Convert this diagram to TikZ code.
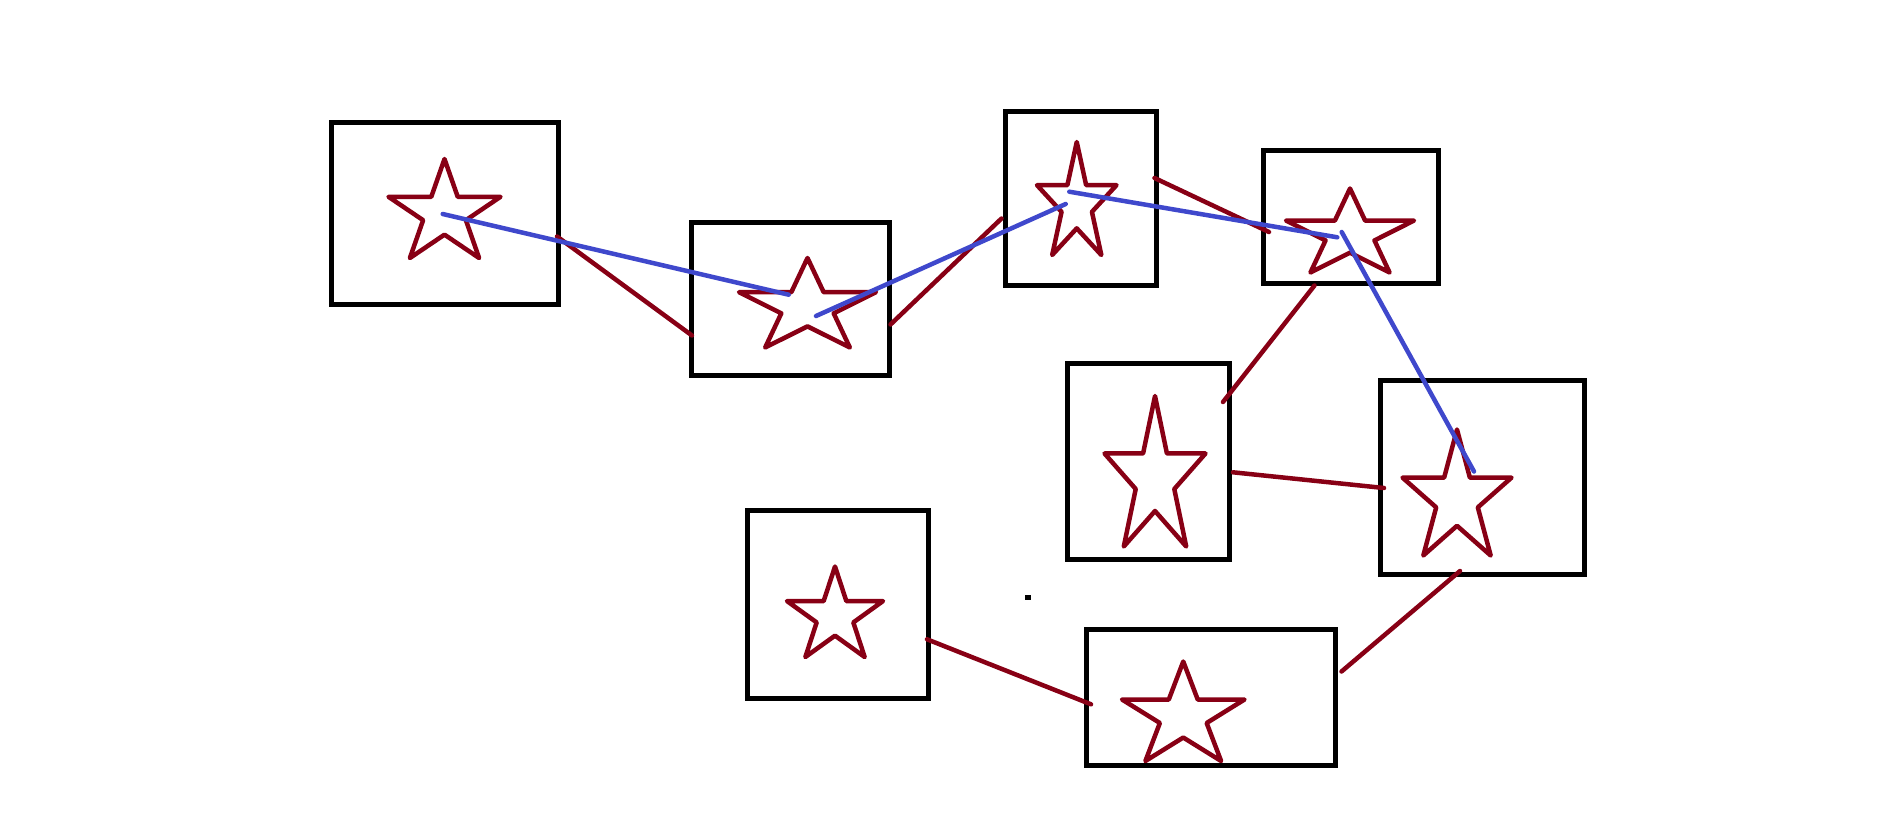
\documentclass[tikz,border=0pt]{standalone}
\usetikzlibrary{fit}
\definecolor{pred}{HTML}{880015}
\definecolor{pblue}{HTML}{3F48CC}
\tikzset{
  frame/.style={draw=black, line width=5pt, rectangle, inner sep=0pt, outer sep=0pt},
  starline/.style={draw=pred, line width=4.5pt, line join=round, line cap=round},
  redlink/.style={draw=pred, line width=4.5pt, line cap=round},
  bluelink/.style={draw=pblue, line width=4.5pt, line cap=round},
  dotmark/.style={fill=black, rectangle, inner sep=0pt, minimum size=5.5pt},
}
% star drawn inside its bounding box: left, top, right, bottom (pixels)
\newcommand\pstar[4]{%
  \pgfmathsetmacro\sw{#3-#1}\pgfmathsetmacro\sh{#4-#2}%
  \draw[starline, shift={(#1pt,-#2pt)}, x=\sw pt, y=-\sh pt]
    (0.5,0) -- (0.618,0.382) -- (1,0.382) -- (0.691,0.618) -- (0.809,1)
    -- (0.5,0.764) -- (0.191,1) -- (0.309,0.618) -- (0,0.382)
    -- (0.382,0.382) -- cycle;}
\begin{document}
\begin{tikzpicture}[x=1pt, y=-1pt]
\useasboundingbox (0,0) rectangle (1901,822);
\fill[white] (0,0) rectangle (1901,822);

% boxes
\node[frame, fit={(331.7,122.3) (558,304.3)}] (b1) {};
\node[frame, fit={(691.7,222.3) (889.5,375.8)}] (b2) {};
\node[frame, fit={(1005.7,111) (1156.2,285)}] (b3) {};
\node[frame, fit={(1263.8,150.8) (1438.3,283.7)}] (b4) {};
\node[frame, fit={(1067.5,363.5) (1229.2,559.8)}] (b5) {};
\node[frame, fit={(1380.8,380.8) (1584.2,574.8)}] (b6) {};
\node[frame, fit={(747.5,510.8) (928.2,698.2)}] (b7) {};
\node[frame, fit={(1086.5,629.2) (1335.5,765)}] (b8) {};

% stars
\pstar{388.5}{159}{500.5}{258}
\pstar{739}{258}{876}{347.5}
\pstar{1037}{142}{1116.5}{255}
\pstar{1286}{188.5}{1414}{272.5}
\pstar{1104.5}{396}{1205.5}{546.5}
\pstar{1402.5}{429.5}{1511.5}{555.5}
\pstar{787}{566.5}{883}{657}
\pstar{1122}{661.5}{1244.5}{761}

% dot
\node[dotmark] (dot) at (1028,597.7) {};

% red connectors
\coordinate (r1a) at (557,236.5);  \coordinate (r1b) at (692,335.5);
\coordinate (r2a) at (890.5,324.5); \coordinate (r2b) at (1001.5,218.5);
\coordinate (r3a) at (1154.5,178); \coordinate (r3b) at (1269,232);
\coordinate (r4a) at (1314.5,285.5); \coordinate (r4b) at (1223,402);
\coordinate (r5a) at (1233,472.3); \coordinate (r5b) at (1384,488);
\coordinate (r6a) at (1460,571); \coordinate (r6b) at (1341.5,671.5);
\coordinate (r7a) at (927,639.3); \coordinate (r7b) at (1091,704.3);
\draw[redlink] (r1a) -- (r1b);
\draw[redlink] (r2a) -- (r2b);
\draw[redlink] (r3a) -- (r3b);
\draw[redlink] (r4a) -- (r4b);
\draw[redlink] (r5a) -- (r5b);
\draw[redlink] (r6a) -- (r6b);
\draw[redlink] (r7a) -- (r7b);

% blue connectors
\coordinate (u1a) at (442.7,214); \coordinate (u1b) at (788.7,294.7);
\coordinate (u2a) at (816,316); \coordinate (u2b) at (1065.7,204);
\coordinate (u3a) at (1069.3,191.7); \coordinate (u3b) at (1337.3,237.3);
\coordinate (u4a) at (1341.7,232); \coordinate (u4b) at (1474,471.5);
\draw[bluelink] (u1a) -- (u1b);
\draw[bluelink] (u2a) -- (u2b);
\draw[bluelink] (u3a) -- (u3b);
\draw[bluelink] (u4a) -- (u4b);
\end{tikzpicture}
\end{document}
